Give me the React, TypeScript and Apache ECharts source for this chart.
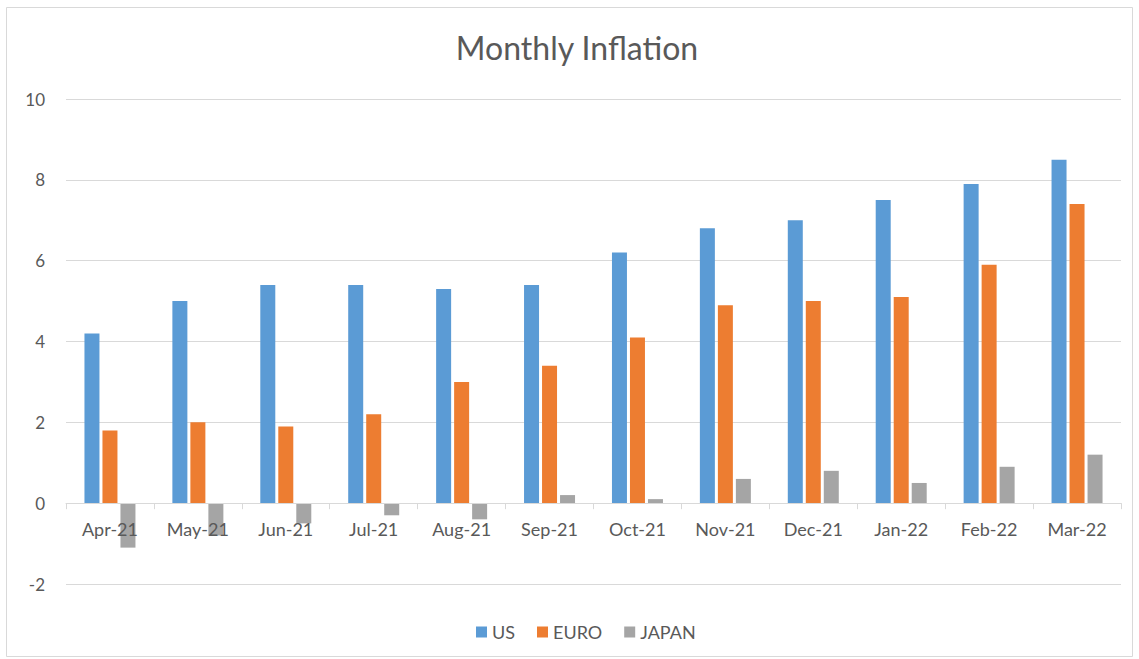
import React, { useEffect, useRef } from "react";
import * as echarts from "echarts";

const categories = ["Apr-21", "May-21", "Jun-21", "Jul-21", "Aug-21", "Sep-21", "Oct-21", "Nov-21", "Dec-21", "Jan-22", "Feb-22", "Mar-22"];
const usValues = [4.2, 5.0, 5.4, 5.4, 5.3, 5.4, 6.2, 6.8, 7.0, 7.5, 7.9, 8.5];
const euroValues = [1.8, 2.0, 1.9, 2.2, 3.0, 3.4, 4.1, 4.9, 5.0, 5.1, 5.9, 7.4];
const japanValues = [-1.1, -0.8, -0.5, -0.3, -0.4, 0.2, 0.1, 0.6, 0.8, 0.5, 0.9, 1.2];

const FONT = "Lato, 'Open Sans', sans-serif";
const Y_MIN = -2;
const Y_MAX = 10;
const GRID_TOP = 99;
const GRID_BOTTOM = 75;
const H = 659;

export default function App() {
  const ref = useRef<HTMLDivElement>(null);
  useEffect(() => {
    if (!ref.current) return;
    const chart = echarts.init(ref.current, undefined, { renderer: "svg" });
    const plotH = H - GRID_TOP - GRID_BOTTOM;
    const zeroOffset = -(plotH * (0 - Y_MIN)) / (Y_MAX - Y_MIN);
    chart.setOption({
      animation: false,
      backgroundColor: "#ffffff",
      textStyle: { fontFamily: FONT },
      title: {
        text: "Monthly Inflation",
        left: 572,
        textAlign: "center",
        top: 26,
        textStyle: { fontSize: 32, fontWeight: "normal", color: "#595959", fontFamily: FONT },
      },
      legend: {
        left: 471,
        top: 618,
        itemWidth: 11,
        itemHeight: 11,
        itemGap: 22,
        icon: "rect",
        textStyle: { fontSize: 18, color: "#595959", fontFamily: FONT },
        data: ["US", "EURO", "JAPAN"],
      },
      grid: { left: 66, right: 18, top: GRID_TOP, bottom: GRID_BOTTOM },
      graphic: [
        {
          type: "rect",
          shape: { x: 6.5, y: 7.5, width: 1126, height: 649 },
          style: { fill: "none", stroke: "#d9d9d9", lineWidth: 1 },
          silent: true,
        },
      ],
      xAxis: {
        type: "category",
        data: categories,
        z: 10,
        offset: zeroOffset,
        axisLine: { onZero: false, lineStyle: { color: "#d9d9d9", width: 1 } },
        axisTick: { show: true, length: 6, lineStyle: { color: "#d9d9d9" } },
        axisLabel: { fontSize: 18, color: "#595959", margin: 17, fontFamily: FONT },
        splitLine: { show: false },
      },
      yAxis: {
        type: "value",
        min: Y_MIN,
        max: Y_MAX,
        interval: 2,
        axisLine: { show: false },
        axisTick: { show: false },
        axisLabel: { fontSize: 17, color: "#595959", margin: 21, fontFamily: FONT },
        splitLine: { lineStyle: { color: "#d9d9d9", width: 1 } },
      },
      series: [
        { name: "US", type: "bar", data: usValues, barWidth: 15, barGap: "20%", itemStyle: { color: "#5b9bd5" } },
        { name: "EURO", type: "bar", data: euroValues, barWidth: 15, barGap: "20%", itemStyle: { color: "#ed7d31" } },
        { name: "JAPAN", type: "bar", data: japanValues, barWidth: 15, barGap: "20%", itemStyle: { color: "#a5a5a5" } },
      ],
    });
    return () => chart.dispose();
  }, []);
  return <div ref={ref} style={{ position: "fixed", left: 0, top: 0, width: 1139, height: 659 }} />;
}
